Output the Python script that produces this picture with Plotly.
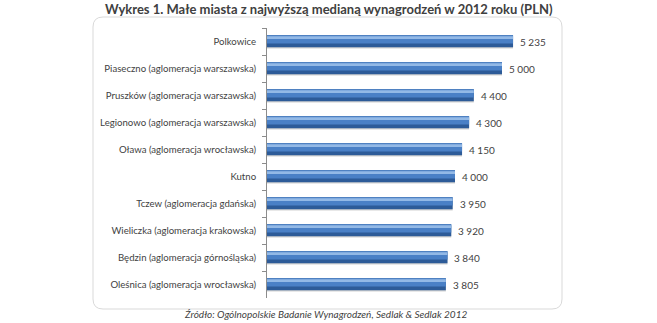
import plotly.graph_objects as go

# ---- data ----
categories = [
    "Polkowice",
    "Piaseczno (aglomeracja warszawska)",
    "Pruszków (aglomeracja warszawska)",
    "Legionowo (aglomeracja warszawska)",
    "Oława (aglomeracja wrocławska)",
    "Kutno",
    "Tczew (aglomeracja gdańska)",
    "Wieliczka (aglomeracja krakowska)",
    "Będzin (aglomeracja górnośląska)",
    "Oleśnica (aglomeracja wrocławska)",
]
values = [5235, 5000, 4400, 4300, 4150, 4000, 3950, 3920, 3840, 3805]
value_labels = ["{:,}".format(v).replace(",", " ") for v in values]

title_text = "Wykres 1. Małe miasta z najwyższą medianą wynagrodzeń w 2012 roku (PLN)"
source_text = "Źródło: Ogólnopolskie Badanie Wynagrodzeń, Sedlak & Sedlak 2012"

# ---- layout geometry (pixels) ----
W, H = 657, 323
L, R, T, B = 267, 549, 28, 298


def px_x(px):
    return (px - L) / (R - L)


def px_y(py):
    return (B - py) / (B - T)


FONT = "Lato, Liberation Sans, Arial, sans-serif"
TXT = "#3f3f3f"

fig = go.Figure()

# shadow
fig.add_trace(go.Bar(
    y=categories, x=values, orientation="h",
    width=0.44, offset=-0.18,
    marker=dict(color="rgba(120,120,120,0.35)", line=dict(width=0)),
    hoverinfo="skip", showlegend=False,
))
# base (dark lower part)
fig.add_trace(go.Bar(
    y=categories, x=values, orientation="h",
    width=0.44, offset=-0.23,
    marker=dict(color="#2d5b98", line=dict(width=0)),
    hoverinfo="skip", showlegend=False,
))
# mid blue
fig.add_trace(go.Bar(
    y=categories, x=values, orientation="h",
    width=0.30, offset=-0.23,
    marker=dict(color="#4a80c6", line=dict(width=0)),
    hoverinfo="skip", showlegend=False,
))
# light highlight
fig.add_trace(go.Bar(
    y=categories, x=values, orientation="h",
    width=0.10, offset=-0.19,
    marker=dict(color="#93b9e6", line=dict(width=0)),
    hoverinfo="skip", showlegend=False,
))

# rounded rectangle frame
x0, x1, y0, y1, rr = 93, 562, 17, 309, 10
path = (
    f"M {px_x(x0 + rr)} {px_y(y0)} "
    f"L {px_x(x1 - rr)} {px_y(y0)} "
    f"Q {px_x(x1)} {px_y(y0)} {px_x(x1)} {px_y(y0 + rr)} "
    f"L {px_x(x1)} {px_y(y1 - rr)} "
    f"Q {px_x(x1)} {px_y(y1)} {px_x(x1 - rr)} {px_y(y1)} "
    f"L {px_x(x0 + rr)} {px_y(y1)} "
    f"Q {px_x(x0)} {px_y(y1)} {px_x(x0)} {px_y(y1 - rr)} "
    f"L {px_x(x0)} {px_y(y0 + rr)} "
    f"Q {px_x(x0)} {px_y(y0)} {px_x(x0 + rr)} {px_y(y0)} Z"
)

annotations = [
    dict(text="<b>" + title_text + "</b>", xref="paper", yref="paper",
         x=px_x(329), y=px_y(9), xanchor="center", yanchor="middle",
         showarrow=False, font=dict(family=FONT, size=13, color="#404040")),
    dict(text="<i>" + source_text + "</i>", xref="paper", yref="paper",
         x=px_x(325), y=px_y(314), xanchor="center", yanchor="middle",
         showarrow=False, font=dict(family=FONT, size=10, color="#3f3f3f")),
]
for c, v, lab in zip(categories, values, value_labels):
    annotations.append(dict(
        text=lab, x=v, y=c, xref="x", yref="y", xanchor="left",
        yanchor="middle", xshift=5, showarrow=False,
        font=dict(family=FONT, size=10, color=TXT)))

fig.update_layout(
    width=W, height=H,
    margin=dict(l=L, r=W - R, t=T, b=H - B, pad=0),
    paper_bgcolor="white", plot_bgcolor="rgba(0,0,0,0)",
    barmode="overlay",
    bargap=0.56,
    font=dict(family=FONT, size=10, color=TXT),
    shapes=[dict(type="path", path=path, xref="paper", yref="paper",
                 line=dict(color="#d9d9d9", width=1), layer="below")],
    annotations=annotations,
    xaxis=dict(range=[0, 6000], showticklabels=False, showgrid=False,
               zeroline=False, showline=False, ticks=""),
    yaxis=dict(autorange="reversed", showgrid=False, zeroline=False,
               showline=True, linecolor="#8c8c8c", linewidth=1,
               ticks="outside", tickson="boundaries", ticklen=4,
               tickcolor="#8c8c8c", ticklabelstandoff=8,
               tickfont=dict(family=FONT, size=9.6, color=TXT)),
    hovermode=False,
)

fig.write_html("out.html")
